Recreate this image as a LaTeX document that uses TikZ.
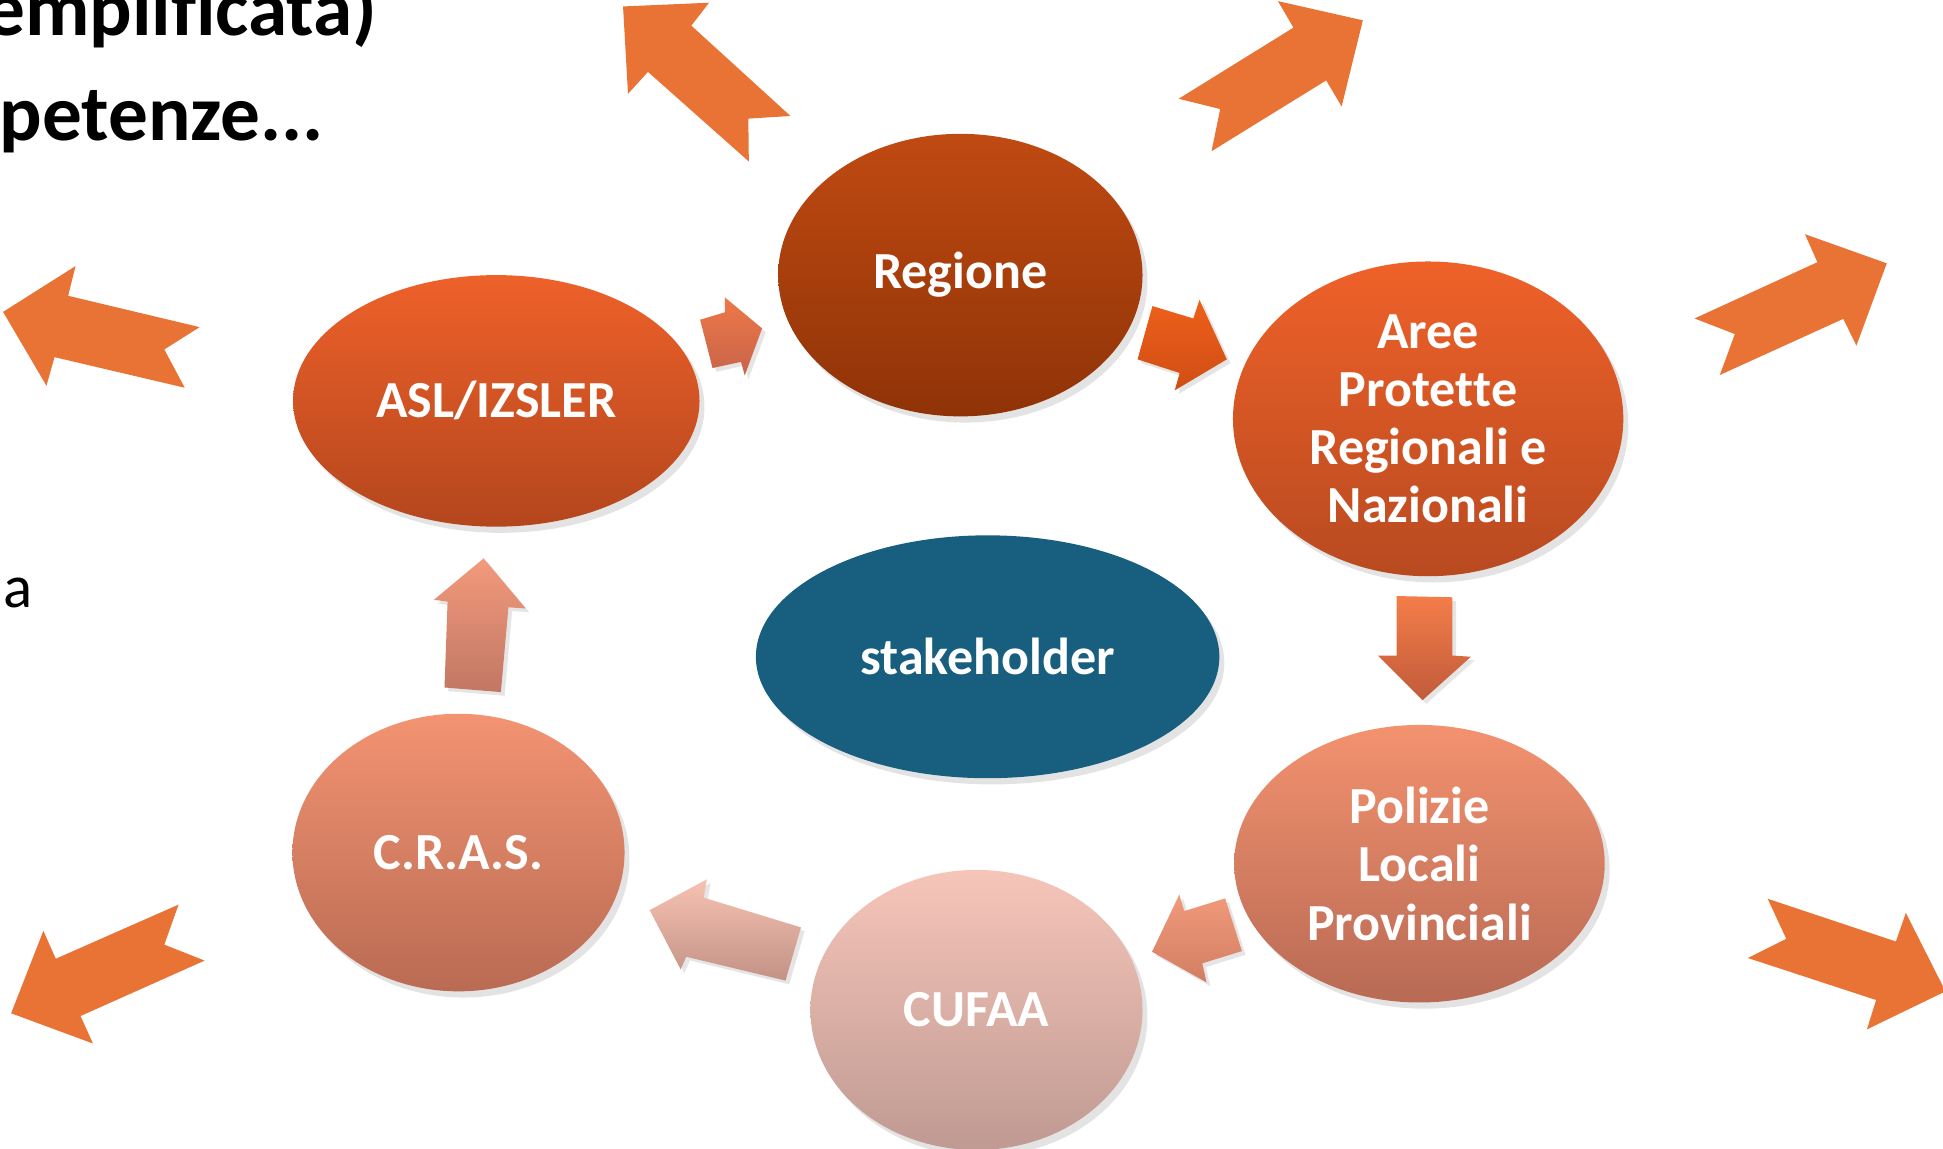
\documentclass[tikz,border=0pt]{standalone}
\usepackage{fontspec}
\setmainfont{Carlito}[Ligatures={NoCommon}]
\usetikzlibrary{shapes.geometric,shadows}
\definecolor{outerorange}{HTML}{E97334}
\definecolor{stakeblue}{HTML}{175E7F}
\tikzset{
  bubble/.style={ellipse, inner sep=0pt, text=white, align=center,
    font=\fontsize{21pt}{23.5pt}\selectfont\bfseries,
    drop shadow={opacity=0.22, shadow xshift=2pt, shadow yshift=-2.5pt}},
  outerarrow/.style={fill=outerorange},
  innerarrow/.style={drop shadow={opacity=0.2, shadow xshift=1.5pt, shadow yshift=-1.5pt}},
  slidebold/.style={inner sep=0pt, font=\fontsize{32pt}{36pt}\selectfont\bfseries, text=black},
  slidereg/.style={inner sep=0pt, font=\fontsize{24.5pt}{28pt}\selectfont, text=black}
}
\begin{document}
\begin{tikzpicture}[x=0.5pt, y=-0.5pt]
\useasboundingbox (0,0) rectangle (1568,927);
\fill[white] (0,0) rectangle (1568,927);
\clip (0,0) rectangle (1568,927);

% slide text fragments
\node[slidebold, anchor=base east] (t1) at (305,29) {empli\kern0pt f\kern0pt icata)};
\node[slidebold, anchor=base east] (t2) at (262,113) {petenze...};
\node[slidereg, anchor=base east] (t3) at (27,490) {a};

% outer arrows
\path[outerarrow] (502.8,5.2) -- (572.2,2.2) -- (557.9,20.7) -- (637.9,93.6) -- (603.9,95.7) -- (604.3,130.3) -- (522.9,58) -- (506.8,75.7) -- cycle;
\path[outerarrow] (951.2,79.7) -- (1043.8,22.3) -- (1031.3,0.9) -- (1099.8,16.4) -- (1082.7,85.9) -- (1070.2,64.9) -- (977.7,122) -- (984.7,88) -- cycle;
\path[outerarrow] (1367.5,257) -- (1466.6,211.6) -- (1456.6,189) -- (1522.6,212.5) -- (1498.1,278.9) -- (1487.5,257.3) -- (1387.9,302.6) -- (1400,269.6) -- cycle;
\path[outerarrow] (2.5,251.7) -- (61,214.7) -- (55,238.7) -- (161.1,264) -- (132.6,282) -- (149.1,312.9) -- (44,288.2) -- (37.5,311.3) -- cycle;
\path[outerarrow] (9,817.7) -- (35,751.2) -- (45,773.7) -- (144.1,730) -- (132.6,762.3) -- (165.1,775.2) -- (65,819.9) -- (75,842.1) -- cycle;
\path[outerarrow] (1426.5,725.3) -- (1530,759.8) -- (1538,736.7) -- (1570,800) -- (1506.6,830.7) -- (1514,807) -- (1410.5,773.1) -- (1441.5,757.6) -- cycle;

% inner arrows (cycle)
\path[innerarrow, top color={rgb,255:red,238;green,120;blue,72}, bottom color={rgb,255:red,200;green,100;blue,74}]
  (565,258) -- (585,252) -- (585,240) -- (615,265) -- (601,303) -- (598,292) -- (575,297) -- cycle;
\path[innerarrow, top color={rgb,255:red,238;green,95;blue,27}, bottom color={rgb,255:red,208;green,78;blue,20}]
  (930,247) -- (963,257) -- (968,242) -- (990,290) -- (948,315) -- (952,301) -- (918,290) -- cycle;
\path[innerarrow, top color={rgb,255:red,244;green,125;blue,73}, bottom color={rgb,255:red,192;green,91;blue,58}]
  (1127,481) -- (1172,482) -- (1172,529) -- (1187,530) -- (1148,565) -- (1112,529) -- (1127,529) -- cycle;
\path[innerarrow, top color={rgb,255:red,241;green,154;blue,124}, bottom color={rgb,255:red,210;green,126;blue,98}]
  (988.7,725) -- (1002.2,767.5) -- (970.2,777.4) -- (973.7,792.8) -- (929.7,768.1) -- (951.7,721.9) -- (955.7,735.2) -- cycle;
\path[innerarrow, top color={rgb,255:red,246;green,194;blue,178}, bottom color={rgb,255:red,195;green,146;blue,134}]
  (646.4,748.4) -- (633.9,791.3) -- (553.8,772.1) -- (549.3,782.3) -- (524.3,734.5) -- (570.4,709.6) -- (567.9,724.4) -- cycle;
\path[innerarrow, top color={rgb,255:red,242;green,154;blue,124}, bottom color={rgb,255:red,194;green,119;blue,100}]
  (358.7,554.8) -- (361.2,485.5) -- (350.2,484) -- (390.3,450.6) -- (424.2,491) -- (410.3,490.1) -- (404.2,558.5) -- cycle;

% bubbles
\node[bubble, minimum width=147pt, minimum height=114pt,
  top color={rgb,255:red,192;green,74;blue,18}, bottom color={rgb,255:red,143;green,51;blue,7}]
  (regione) at (775,222) {Regione};
\node[bubble, minimum width=164pt, minimum height=101.5pt,
  top color={rgb,255:red,238;green,97;blue,42}, bottom color={rgb,255:red,180;green,70;blue,29}]
  (asl) at (400.5,323.5) {ASL/IZSLER};
\node[bubble, minimum width=157.5pt, minimum height=127pt,
  top color={rgb,255:red,239;green,97;blue,41}, bottom color={rgb,255:red,184;green,74;blue,32}]
  (aree) at (1152.5,338) {Aree\\Protet\kern0pt te\\Regionali e\\Nazionali};
\node[bubble, minimum width=187pt, minimum height=98pt, fill=stakeblue, drop shadow={opacity=0}]
  (stake) at (797,530) {stakeholder};
\node[bubble, minimum width=149.5pt, minimum height=112pt,
  top color={rgb,255:red,243;green,146;blue,111}, bottom color={rgb,255:red,184;green,106;blue,84}]
  (polizie) at (1145.5,697) {Polizie\\Locali\\Provinciali};
\node[bubble, minimum width=134pt, minimum height=113pt,
  top color={rgb,255:red,246;green,197;blue,185}, bottom color={rgb,255:red,191;green,154;blue,146}]
  (cufaa) at (788,815) {CUFAA};
\node[bubble, minimum width=134pt, minimum height=112pt,
  top color={rgb,255:red,243;green,147;blue,114}, bottom color={rgb,255:red,185;green,107;blue,83}]
  (cras) at (370,688) {C.R.A.S.};
\end{tikzpicture}
\end{document}
